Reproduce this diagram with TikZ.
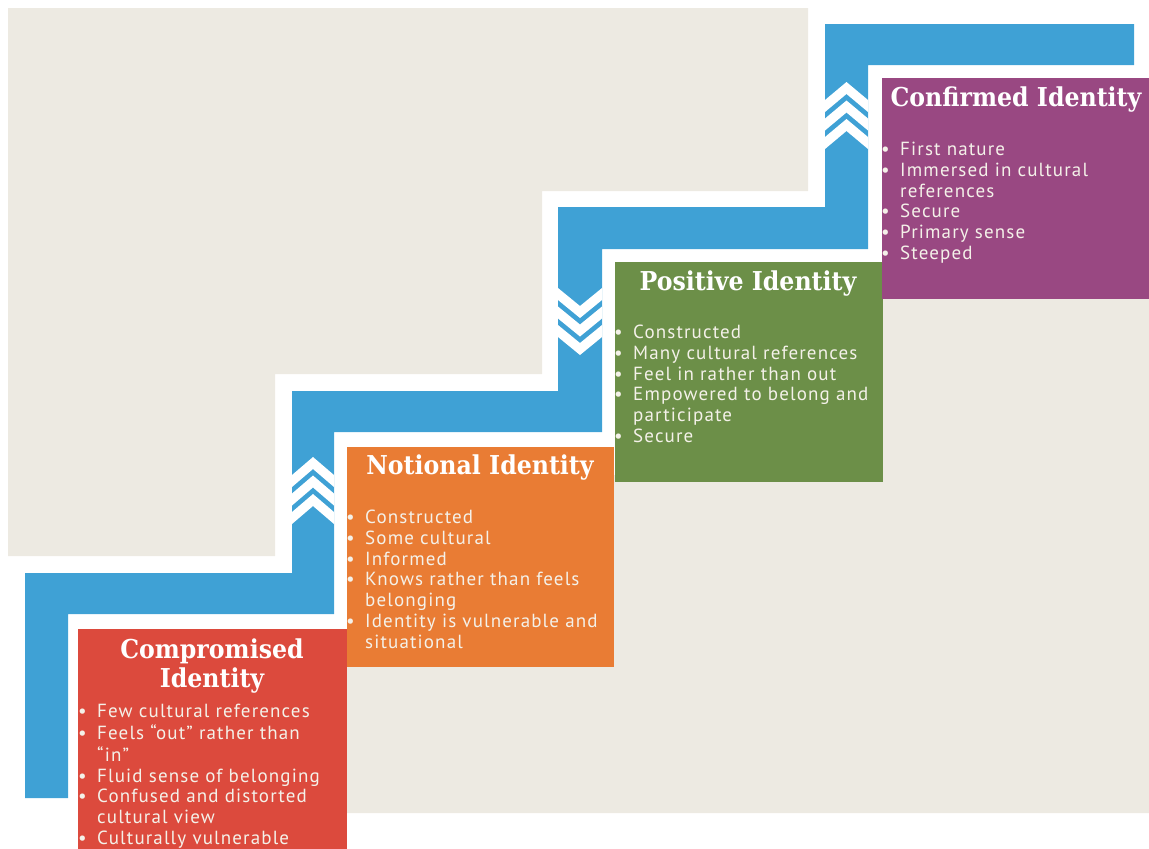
\documentclass[tikz,border=0pt]{standalone}
\usepackage{fontspec}
\setmainfont[LetterSpace=6]{PT Sans}
\newfontfamily\ttlfont[FakeStretch=0.91]{DejaVu Serif}
\definecolor{bgbeige}{RGB}{237,234,226}
\definecolor{stairblue}{RGB}{63,161,213}
\definecolor{cred}{RGB}{220,74,61}
\definecolor{corange}{RGB}{233,124,52}
\definecolor{cgreen}{RGB}{108,143,72}
\definecolor{cpurple}{RGB}{153,72,130}
\definecolor{cream}{RGB}{244,241,233}
\newcommand\bl{\strut\makebox[19pt][l]{\textbullet}}
\newcommand\ind{\strut\hspace*{19pt}}

\begin{document}
\begin{tikzpicture}[x=1pt,y=-1pt,
 box/.style={rectangle,draw=none,anchor=north west,inner sep=0pt},
 ttl/.style={text=white,font=\ttlfont\bfseries\fontsize{26}{29}\selectfont,align=center,inner sep=0pt},
 lst/.style={text=cream,font=\fontsize{19}{20.75}\selectfont,align=left,anchor=north west,inner sep=0pt}]
\useasboundingbox (0,0) rectangle (1149,849);

% background
\fill[bgbeige] (8,8) -- (808,8) -- (808,191) -- (542,191) -- (542,374) -- (275,374) -- (275,556) -- (8,556) -- cycle;
\fill[bgbeige] (347,813) -- (1149,813) -- (1149,290) -- (875,290) -- (875,475) -- (605,475) -- (605,660) -- (347,660) -- cycle;

% stairs
\fill[stairblue] (25,798) -- (25,573) -- (292,573) -- (292,391) -- (558,391) -- (558,207) -- (825,207) -- (825,24) -- (1134,24)
 -- (1134,65) -- (868,65) -- (868,249) -- (602,249) -- (602,432) -- (334,432) -- (334,614) -- (68,614) -- (68,798) -- cycle;

% chevrons
\foreach \k in {0,1,2} {
 \fill[white] (292,{475+18.5*\k}) -- (313,{457+18.5*\k}) -- (334,{475+18.5*\k}) -- (334,{487+18.5*\k}) -- (313,{469+18.5*\k}) -- (292,{487+18.5*\k}) -- cycle;
 \fill[white] (558,{337-18.5*\k}) -- (580,{355-18.5*\k}) -- (602,{337-18.5*\k}) -- (602,{325-18.5*\k}) -- (580,{343-18.5*\k}) -- (558,{325-18.5*\k}) -- cycle;
 \fill[white] (825,{100+18.5*\k}) -- (846.5,{82+18.5*\k}) -- (868,{100+18.5*\k}) -- (868,{112+18.5*\k}) -- (846.5,{94+18.5*\k}) -- (825,{112+18.5*\k}) -- cycle;
}

% boxes
\node[box,fill=cred,minimum width=269pt,minimum height=230pt] (compromised) at (78,629) {};
\node[box,fill=corange,minimum width=267pt,minimum height=220pt] (notional) at (347,447) {};
\node[box,fill=cgreen,minimum width=268pt,minimum height=220pt] (positive) at (615,262) {};
\node[box,fill=cpurple,minimum width=267pt,minimum height=221pt] (confirmed) at (882,78) {};

\node[ttl] (compromisedttl) at (212,666) {Compromised\\Identity};
\node[ttl] (notionalttl) at (480,468) {Notional Identity};
\node[ttl] (positivettl) at (748,284) {Positive Identity};
\node[ttl] (confirmedttl) at (1016,100) {Confirmed Identity};

\node[lst] (compromisedlst) at (78,702.5) {\bl Few cultural references\\ \bl Feels “out” rather than\\ \ind “in”\\ \bl Fluid sense of belonging\\
 \bl Confused and distorted\\ \ind cultural view\\ \bl Culturally vulnerable};
\node[lst] (notionallst) at (346,509) {\bl Constructed\\ \bl Some cultural\\ \bl Informed\\ \bl Knows rather than feels\\
 \ind belonging\\ \bl Identity is vulnerable and\\ \ind situational};
\node[lst] (positivelst) at (614,324) {\bl Constructed\\ \bl Many cultural references\\ \bl Feel in rather than out\\
 \bl Empowered to belong and\\ \ind participate\\ \bl Secure};
\node[lst] (confirmedlst) at (881,141) {\bl First nature\\ \bl Immersed in cultural\\ \ind references\\ \bl Secure\\
 \bl Primary sense\\ \bl Steeped};
\end{tikzpicture}
\end{document}
